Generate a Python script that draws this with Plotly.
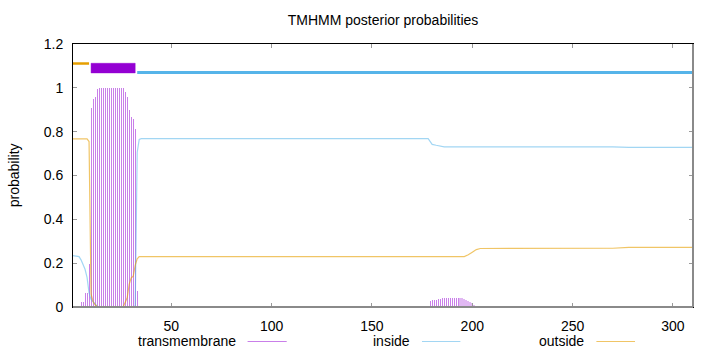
import plotly.graph_objects as go

# ---------------- data ----------------
seq_len = 310
title_text = "TMHMM posterior probabilities"
y_label = "probability"
series_names = ["transmembrane", "inside", "outside"]

x_ticks = [50, 100, 150, 200, 250, 300]
y_ticks = [0, 0.2, 0.4, 0.6, 0.8, 1.0, 1.2]
y_tick_labels = ["0", "0.2", "0.4", "0.6", "0.8", "1", "1.2"]

# transmembrane posterior (impulses), helix region
tm_res_helix = list(range(5, 34))
tm_val_helix = [0.024, 0.024, 0.065, 0.065, 0.196,
                0.906, 0.947, 0.958, 0.993,
                1.0, 1.0, 1.0, 1.0, 1.0, 1.0, 1.0, 1.0, 1.0, 1.0, 1.0, 1.0, 1.0,
                0.98, 0.958, 0.897, 0.867, 0.86, 0.81, 0.074]
# small bump around residue 180-200
tm_res_bump = list(range(179, 194))
tm_val_bump = [0.029, 0.030, 0.032, 0.033, 0.035, 0.038, 0.040, 0.040,
               0.040, 0.040, 0.040, 0.040, 0.040, 0.040, 0.040]
tm_res_tail = list(range(194, 203))
tm_val_tail = [0.040, 0.039, 0.036, 0.033, 0.029, 0.024, 0.017, 0.009, 0.003]
tm_res_low = list(range(275, 298))
tm_val_low = [0.003, 0.003, 0.003, 0.003, 0.003, 0.003, 0.003, 0.003,
              0.003, 0.003, 0.003, 0.003, 0.003, 0.003, 0.003, 0.003,
              0.003, 0.003, 0.003, 0.003, 0.003, 0.003, 0.003]

# inside posterior
inside_x = [1, 4, 5, 6, 7, 8, 9, 10, 11, 12, 13, 14, 31, 32, 33, 34, 35,
            178, 179, 180, 182, 184, 186, 270, 278, 310]
inside_y = [0.234, 0.230, 0.215, 0.191, 0.172, 0.135, 0.065, 0.035, 0.024,
            0.012, 0.004, 0.0, 0.0, 0.005, 0.706, 0.765, 0.768,
            0.768, 0.752, 0.742, 0.738, 0.735, 0.731, 0.731, 0.728, 0.728]

# outside posterior
outside_x = [1, 8, 9, 10, 11, 12, 13, 14, 26, 27, 28, 29, 30, 31, 32, 33, 34,
             196, 198, 200, 202, 204, 270, 278, 310]
outside_y = [0.767, 0.767, 0.755, 0.06, 0.025, 0.01, 0.003, 0.0, 0.0, 0.02,
             0.042, 0.103, 0.133, 0.14, 0.19, 0.22, 0.23,
             0.23, 0.238, 0.25, 0.262, 0.267, 0.268, 0.272, 0.272]

# predicted topology
topo_start = [1, 10, 33]
topo_end = [9, 32, 310]
topo_kind = ["outside", "TMhelix", "inside"]

# ---------------- styling ----------------
FONT = "Liberation Sans, Arial, sans-serif"
FS = 14
TM_COL = "rgba(148,0,211,0.5)"
TM_LIGHT = "rgba(148,0,211,0.28)"
IN_COL = "rgba(86,180,233,0.55)"
OUT_COL = "rgba(230,159,0,0.6)"
series_colors = [TM_COL, IN_COL, OUT_COL]

fig = go.Figure()

bar_x = tm_res_helix + tm_res_bump + tm_res_tail + tm_res_low
bar_y = tm_val_helix + tm_val_bump + tm_val_tail + tm_val_low
bar_w = ([0.48] * len(tm_res_helix) + [0.48] * len(tm_res_bump)
         + [1.0] * len(tm_res_tail) + [0.48] * len(tm_res_low))
bar_c = ([TM_COL] * len(tm_res_helix) + [TM_COL] * len(tm_res_bump)
         + [TM_LIGHT] * len(tm_res_tail) + [TM_COL] * len(tm_res_low))

fig.add_trace(go.Bar(x=bar_x, y=bar_y, width=bar_w,
                     marker=dict(color=bar_c, line=dict(width=0)),
                     name=series_names[0], showlegend=False))
fig.add_trace(go.Scatter(x=inside_x, y=inside_y, mode="lines",
                         line=dict(color=IN_COL, width=1.2),
                         name=series_names[1], showlegend=False))
fig.add_trace(go.Scatter(x=outside_x, y=outside_y, mode="lines",
                         line=dict(color=OUT_COL, width=1.2),
                         name=series_names[2], showlegend=False))

# topology bar on top
for s, e, k in zip(topo_start, topo_end, topo_kind):
    if k == "TMhelix":
        fig.add_shape(type="rect", xref="x", yref="y", x0=s, x1=e,
                      y0=1.068, y1=1.112, fillcolor="#9400d3",
                      line=dict(color="rgba(148,0,211,0.45)", width=1))
    elif k == "outside":
        fig.add_shape(type="line", xref="x", yref="y", x0=s, x1=e,
                      y0=1.111, y1=1.111, line=dict(color="#e69f00", width=2.5))
    else:
        fig.add_shape(type="line", xref="x", yref="y", x0=s, x1=e,
                      y0=1.07, y1=1.07, line=dict(color="#56b4e9", width=3))

# border look (gnuplot-like)
fig.add_shape(type="line", xref="paper", yref="paper", x0=0, x1=1, y0=0, y1=0,
              line=dict(color="#8a8a8a", width=2), layer="above")
fig.add_shape(type="line", xref="paper", yref="paper", x0=1, x1=1, y0=0, y1=1,
              line=dict(color="#8a8a8a", width=2), layer="above")

# legend (gnuplot style: text then sample line)
legend_text_right = [0.2656, 0.5474, 0.828]
legend_line_x = [(0.2816, 0.3447), (0.5629, 0.6248), (0.8442, 0.9065)]
legend_y = -0.1293
legend_line_y = -0.1312
for name, col, tx, (l0, l1) in zip(series_names, series_colors,
                                   legend_text_right, legend_line_x):
    fig.add_annotation(text=name, xref="paper", yref="paper", x=tx, y=legend_y,
                       xanchor="right", yanchor="middle", showarrow=False,
                       font=dict(family=FONT, size=FS, color="#000"))
    fig.add_shape(type="line", xref="paper", yref="paper", x0=l0, x1=l1,
                  y0=legend_line_y, y1=legend_line_y,
                  line=dict(color=col, width=1))

fig.add_annotation(text=y_label, xref="paper", yref="paper", x=-0.0956, y=0.5,
                   textangle=-90, xanchor="center", yanchor="middle",
                   showarrow=False, font=dict(family=FONT, size=FS, color="#000"))

fig.update_layout(
    width=720, height=352,
    margin=dict(l=73, r=27, t=44, b=45),
    paper_bgcolor="white", plot_bgcolor="white",
    barmode="overlay", bargap=0,
    font=dict(family=FONT, size=FS, color="#000"),
    title=dict(text=title_text, x=0.5, xref="paper", y=1 - 20 / 352,
               yref="container", xanchor="center", yanchor="middle",
               font=dict(family=FONT, size=FS, color="#000")),
    xaxis=dict(range=[1, seq_len], tickvals=x_ticks, ticks="inside",
               ticklen=4, tickcolor="#999", showgrid=False, zeroline=False,
               showline=True, linecolor="#000", linewidth=1, mirror="ticks",
               ticklabelstandoff=6, tickfont=dict(family=FONT, size=FS)),
    yaxis=dict(range=[0, 1.2], tickvals=y_ticks, ticktext=y_tick_labels,
               ticks="inside", ticklen=4, tickcolor="#999", showgrid=False,
               zeroline=False, showline=True, linecolor="#000", linewidth=1,
               mirror="ticks", ticklabelstandoff=6,
               tickfont=dict(family=FONT, size=FS)),
)

fig.write_html("out.html")
